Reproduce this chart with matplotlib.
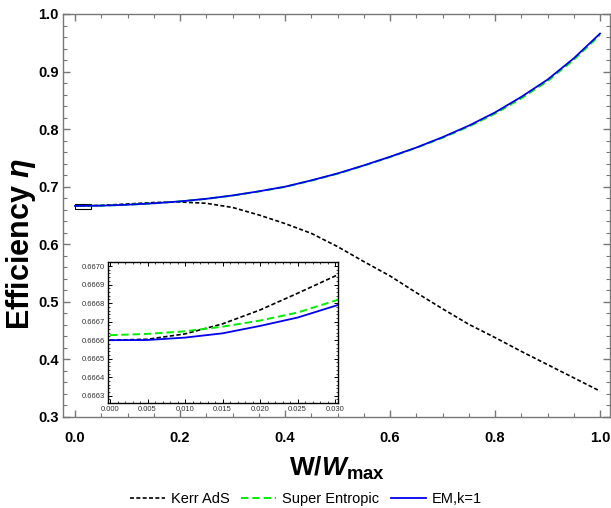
import matplotlib
matplotlib.use("Agg")
import matplotlib.pyplot as plt
from matplotlib.ticker import MultipleLocator, FormatStrFormatter
from matplotlib.patches import Rectangle
from matplotlib.lines import Line2D

plt.rcParams['font.family'] = ['Liberation Sans', 'DejaVu Sans']
plt.rcParams['mathtext.fontset'] = 'custom'
plt.rcParams['mathtext.rm'] = 'Liberation Sans:bold'
plt.rcParams['mathtext.bf'] = 'Liberation Sans:bold'
plt.rcParams['mathtext.it'] = 'Liberation Sans:italic:bold'

# main curves
w = [0.0, 0.05, 0.1, 0.15, 0.2, 0.25, 0.3, 0.35, 0.4, 0.45, 0.5,
     0.55, 0.6, 0.65, 0.7, 0.75, 0.8, 0.85, 0.9, 0.95, 1.0]
eta_kerr = [0.6666, 0.6676, 0.6700, 0.6725, 0.6735, 0.6712, 0.6640, 0.6510, 0.6360, 0.6190, 0.5960,
            0.5700, 0.5450, 0.5160, 0.4880, 0.4610, 0.4380, 0.4140, 0.3910, 0.3680, 0.3450]
eta_super = [0.66663, 0.6671, 0.6687, 0.6712, 0.6745, 0.6789, 0.6846, 0.6917, 0.6997, 0.7106, 0.7226,
             0.7365, 0.7515, 0.7675, 0.7850, 0.8045, 0.8270, 0.8535, 0.8835, 0.9205, 0.9635]
eta_em = [0.6666, 0.6671, 0.6687, 0.6712, 0.6745, 0.6790, 0.6848, 0.6920, 0.7000, 0.7110, 0.7230,
          0.7370, 0.7520, 0.7680, 0.7860, 0.8060, 0.8290, 0.8560, 0.8860, 0.9230, 0.9660]

# inset (zoom near W = 0)
w_in = [0.0, 0.005, 0.01, 0.015, 0.02, 0.025, 0.03, 0.0305]
kerr_in = [0.666600, 0.666605, 0.666634, 0.666688, 0.666763, 0.666853, 0.666946, 0.666957]
super_in = [0.666627, 0.666634, 0.666648, 0.666673, 0.666706, 0.666749, 0.666813, 0.666820]
em_in = [0.666600, 0.666601, 0.666614, 0.666637, 0.666677, 0.666722, 0.666785, 0.666792]

labels = ['Kerr AdS', 'Super Entropic', 'EM,k=1']
colors = ['black', '#00ee00', '#0000ee']

fig = plt.figure(figsize=(6.11, 5.08), dpi=100)
ax = fig.add_axes([63/611, 1-417/508, 547/611, 403/508])

ax.plot(w, eta_kerr, color=colors[0], lw=1.2, dashes=(2.4, 1.4))
ax.plot(w, eta_super, color=colors[1], lw=1.4, dashes=(3.8, 2.0))
ax.plot(w, eta_em, color=colors[2], lw=1.3)
ax.add_patch(Rectangle((0.0, 0.6615), 0.0305, 0.009, fill=False, ec='black', lw=0.8))

ax.set_xlim(-0.0229, 1.019)
ax.set_ylim(0.3, 1.0)
ax.xaxis.set_major_locator(MultipleLocator(0.2))
ax.xaxis.set_minor_locator(MultipleLocator(0.05))
ax.yaxis.set_major_locator(MultipleLocator(0.1))
ax.yaxis.set_minor_locator(MultipleLocator(0.02))
ax.xaxis.set_major_formatter(FormatStrFormatter('%.1f'))
ax.yaxis.set_major_formatter(FormatStrFormatter('%.1f'))
ax.tick_params(which='both', direction='in', top=True, right=True, color='#777777')
ax.tick_params(which='major', length=5, width=1, labelsize=10.5)
ax.tick_params(axis='x', which='major', pad=10)
ax.tick_params(axis='y', which='major', pad=3)
ax.tick_params(which='minor', length=2.8, width=0.8)
for lab in ax.get_xticklabels() + ax.get_yticklabels():
    lab.set_fontweight('bold')
for sp in ax.spines.values():
    sp.set_color('#777777')
    sp.set_linewidth(1.0)

ax.set_ylabel(r'Efficiency $\eta$', fontsize=22, fontweight='bold')
ax.yaxis.set_label_coords(-0.046, 0.43)
ax.set_xlabel(r'W/$W_{\rm max}$', fontsize=19, fontweight='bold')
ax.xaxis.set_label_coords(0.5, -0.095)

# inset
axin = fig.add_axes([108/611, 1-403/508, 230/611, 141/508])
axin.plot(w_in, kerr_in, color=colors[0], lw=1.2, dashes=(2.6, 1.4))
axin.plot(w_in, super_in, color=colors[1], lw=1.4, dashes=(3.8, 2.0))
axin.plot(w_in, em_in, color=colors[2], lw=1.3)
axin.set_xlim(-0.00027, 0.0304)
axin.set_ylim(0.666261, 0.667022)
axin.xaxis.set_major_locator(MultipleLocator(0.005))
axin.xaxis.set_minor_locator(MultipleLocator(0.001))
axin.yaxis.set_major_locator(MultipleLocator(0.0001))
axin.yaxis.set_minor_locator(MultipleLocator(0.00002))
axin.xaxis.set_major_formatter(FormatStrFormatter('%.3f'))
axin.yaxis.set_major_formatter(FormatStrFormatter('%.4f'))
axin.tick_params(which='both', direction='in', top=True, right=True, labelsize=5.5,
                 labelcolor='#333333', pad=2)
axin.tick_params(which='major', length=3, width=0.7)
axin.tick_params(which='minor', length=1.5, width=0.5)
for sp in axin.spines.values():
    sp.set_linewidth(1.0)

handles = [Line2D([], [], color=colors[0], lw=1.2, dashes=(2.4, 1.4)),
           Line2D([], [], color=colors[1], lw=1.4, dashes=(3.8, 2.0)),
           Line2D([], [], color=colors[2], lw=1.3)]
fig.legend(handles, labels, loc='center', bbox_to_anchor=(306/611, 1-499/508), ncol=3,
           frameon=False, fontsize=10.5, handlelength=2.4, columnspacing=0.8, handletextpad=0.4)

fig.savefig('out.png', dpi=100)
